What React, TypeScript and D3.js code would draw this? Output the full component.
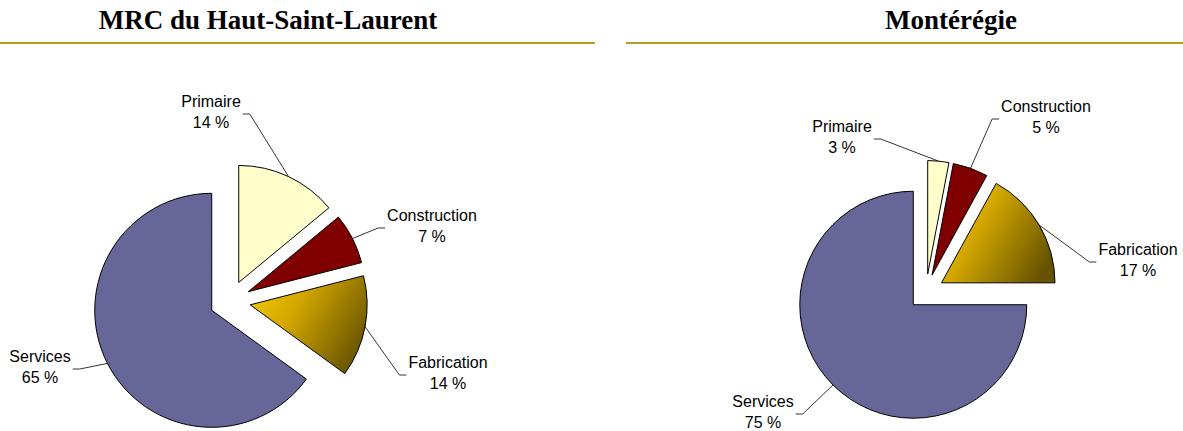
import React, { useEffect, useRef } from 'react'
import * as d3 from 'd3'

const categories = ['Primaire', 'Construction', 'Fabrication', 'Services']
const hautSaintLaurent = [14, 7, 14, 65]
const monteregie = [3, 5, 17, 75]
const titles = ['MRC du Haut-Saint-Laurent', 'Montérégie']

const sliceColors = ['#FFFFCC', '#800000', 'url(#fabGrad)', '#666699']

// where each pie sits; label spots are offsets (centre x, first baseline) from the pie centre
const layouts = [
  {
    cx: 230, cy: 301, r: 117, explode: 20.5, titleX: 268, rule: [0, 595],
    labels: [[-19, -194], [202, -80], [218, 67], [-190, 61]],
  },
  {
    cx: 926, cy: 292, r: 113.5, explode: 18, titleX: 951, rule: [626, 1183],
    labels: [[-84, -160], [120, -180], [212, -37], [-163, 115]],
  },
]

const W = 1183
const H = 431

const App = () => {
  const ref = useRef<SVGSVGElement>(null)

  useEffect(() => {
    createChart()
  }, [])

  const createChart = () => {
    const svg = d3.select(ref.current)
    svg.selectAll('*').remove()

    const defs = svg.append('defs')
    const grad = defs
      .append('linearGradient')
      .attr('id', 'fabGrad')
      .attr('x1', 0)
      .attr('y1', 0.2)
      .attr('x2', 1)
      .attr('y2', 0.7)
    grad.append('stop').attr('offset', 0).attr('stop-color', '#F2C600')
    grad.append('stop').attr('offset', 0.35).attr('stop-color', '#D4A800')
    grad.append('stop').attr('offset', 1).attr('stop-color', '#665200')

    const pie = d3.pie<number>().sort(null).value(d => d)

    ;[hautSaintLaurent, monteregie].forEach((values, k) => {
      const lay = layouts[k]
      const g = svg.append('g')

      // title + rule
      g.append('text')
        .attr('x', lay.titleX)
        .attr('y', 29)
        .attr('text-anchor', 'middle')
        .style('font-family', '"Liberation Serif", "Times New Roman", serif')
        .style('font-weight', 'bold')
        .style('font-size', '27px')
        .text(titles[k])
      g.append('line')
        .attr('x1', lay.rule[0])
        .attr('x2', lay.rule[1])
        .attr('y1', 43)
        .attr('y2', 43)
        .attr('stroke', '#BA9C22')
        .attr('stroke-width', 2.2)

      const arc = d3.arc<d3.PieArcDatum<number>>().innerRadius(0).outerRadius(lay.r)
      const arcs = pie(values)

      const pieG = g.append('g').attr('transform', `translate(${lay.cx},${lay.cy})`)

      arcs.forEach((a, i) => {
        const mid = (a.startAngle + a.endAngle) / 2
        const ox = lay.explode * Math.sin(mid)
        const oy = -lay.explode * Math.cos(mid)
        pieG
          .append('path')
          .attr('transform', `translate(${ox},${oy})`)
          .attr('d', arc(a))
          .attr('fill', sliceColors[i])
          .attr('stroke', '#000')
          .attr('stroke-width', 1)
          .attr('stroke-linejoin', 'round')

        // label
        const [lx, ly] = lay.labels[i]
        const txt = pieG
          .append('text')
          .attr('text-anchor', 'middle')
          .style('font-family', '"Liberation Sans", Arial, sans-serif')
          .style('font-size', '16px')
          .attr('fill', '#000')
        const t1 = txt.append('tspan').attr('x', lx).attr('y', ly).text(categories[i])
        txt.append('tspan').attr('x', lx).attr('y', ly + 21).text(`${values[i]} %`)
        const w = (t1.node() as SVGTSpanElement).getComputedTextLength()

        // leader line from the label to the middle of the slice's rim
        const px = ox + lay.r * Math.sin(mid)
        const py = oy - lay.r * Math.cos(mid)
        const side = px > lx ? 1 : -1
        const sx = lx + side * (w / 2 + 2)
        const ey = ly + 7
        pieG
          .append('path')
          .attr('d', `M${sx},${ey}H${sx + side * 7}L${px},${py}`)
          .attr('fill', 'none')
          .attr('stroke', '#000')
          .attr('stroke-width', 0.8)
      })
    })
  }

  return (
    <svg
      ref={ref}
      width={W}
      height={H}
      style={{ position: 'absolute', left: 0, top: 0, background: '#fff' }}
    />
  )
}

export default App
